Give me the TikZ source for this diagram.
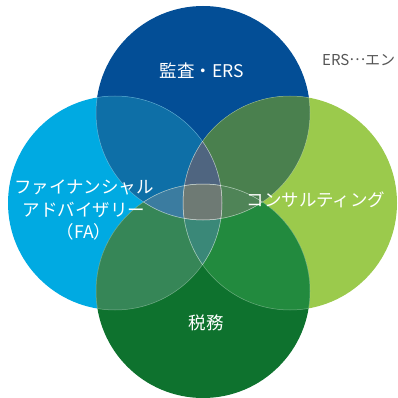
\documentclass[tikz,border=0pt]{standalone}
\usepackage{fontspec}
\newfontfamily\cjk{Noto Sans CJK JP}
\definecolor{cT}{HTML}{034E96}
\definecolor{cL}{HTML}{00AAE2}
\definecolor{cR}{HTML}{9BCA4C}
\definecolor{cB}{HTML}{0E722E}
\definecolor{cTL}{HTML}{0E6FA7}
\definecolor{cTR}{HTML}{4A804E}
\definecolor{cBL}{HTML}{368657}
\definecolor{cBR}{HTML}{228A3E}
\definecolor{cTLR}{HTML}{4F6580}
\definecolor{cBLR}{HTML}{3A8878}
\definecolor{cTBL}{HTML}{3B7CA0}
\definecolor{cTBR}{HTML}{4F8457}
\definecolor{cAll}{HTML}{6E7A74}
\definecolor{noteGray}{HTML}{555555}
\begin{document}
\begin{tikzpicture}[x=1pt,y=-1pt,
  lbl/.style={text=white, font=\cjk\fontsize{17.5}{22.5}\selectfont, align=center, inner sep=0pt},
  note/.style={text=noteGray, font=\cjk\fontsize{15}{17}\selectfont, inner sep=0pt, anchor=west},
  seam/.style={draw=white, draw opacity=0.35, line width=0.5pt}]
\useasboundingbox (0,0) rectangle (397,398);
\coordinate (T) at (203,113);
\coordinate (B) at (203,291);
\coordinate (L) at (115,203);
\coordinate (R) at (290,203);
\def\rr{107pt}
% single circles
\fill[cT] (T) circle[radius=\rr];
\fill[cL] (L) circle[radius=\rr];
\fill[cR] (R) circle[radius=\rr];
\fill[cB] (B) circle[radius=\rr];
% pairwise
\begin{scope}\clip (T) circle[radius=\rr]; \fill[cTL] (L) circle[radius=\rr];\end{scope}
\begin{scope}\clip (T) circle[radius=\rr]; \fill[cTR] (R) circle[radius=\rr];\end{scope}
\begin{scope}\clip (B) circle[radius=\rr]; \fill[cBL] (L) circle[radius=\rr];\end{scope}
\begin{scope}\clip (B) circle[radius=\rr]; \fill[cBR] (R) circle[radius=\rr];\end{scope}
% triple
\begin{scope}\clip (T) circle[radius=\rr]; \clip (L) circle[radius=\rr]; \fill[cTLR] (R) circle[radius=\rr];\end{scope}
\begin{scope}\clip (B) circle[radius=\rr]; \clip (L) circle[radius=\rr]; \fill[cBLR] (R) circle[radius=\rr];\end{scope}
\begin{scope}\clip (T) circle[radius=\rr]; \clip (B) circle[radius=\rr]; \fill[cTBL] (L) circle[radius=\rr];\end{scope}
\begin{scope}\clip (T) circle[radius=\rr]; \clip (B) circle[radius=\rr]; \fill[cTBR] (R) circle[radius=\rr];\end{scope}
% all four
\begin{scope}\clip (T) circle[radius=\rr]; \clip (B) circle[radius=\rr]; \clip (L) circle[radius=\rr]; \fill[cAll] (R) circle[radius=\rr];\end{scope}
% seams inside overlaps
\foreach \a/\b in {T/L,T/R,T/B,L/T,L/R,L/B,R/T,R/L,R/B,B/T,B/L,B/R}{
  \begin{scope}\clip (\b) circle[radius=\rr]; \draw[seam] (\a) circle[radius=\rr];\end{scope}
}
% labels
\node[lbl] (audit) at (202,71) {監査・ERS};
\node[lbl] (fa) at (84,210) {ファイナンシャル\\アドバイザリー\\（FA）};
\node[lbl] (cons) at (316,200) {コンサルティング};
\node[lbl] (tax) at (206,323) {税務};
\node[note] (ers) at (322,60) {ERS\raisebox{0.3em}{…}エン};
\end{tikzpicture}
\end{document}
